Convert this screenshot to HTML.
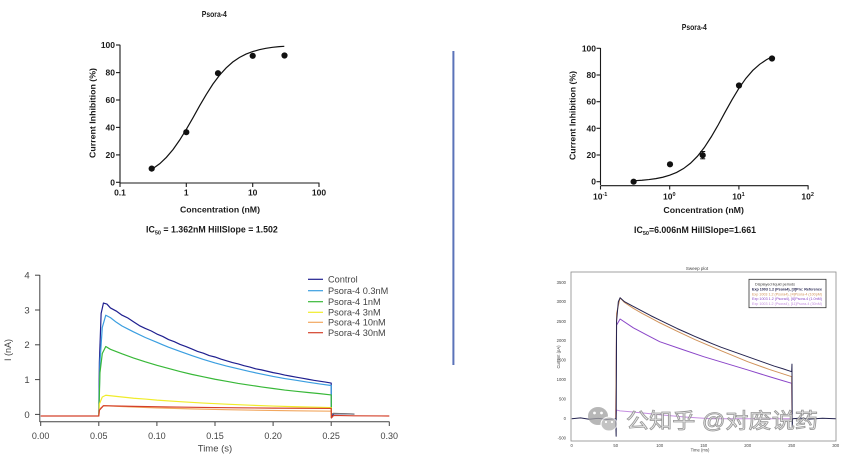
<!DOCTYPE html>
<html><head><meta charset="utf-8"><style>
html,body{margin:0;padding:0;background:#fff;}
svg{display:block;}
.b{font-family:"Liberation Sans",Arial,sans-serif;font-weight:bold;fill:#1a1a1a;}
.n{font-family:"Liberation Sans",Arial,sans-serif;fill:#444;}
.ns{vector-effect:non-scaling-stroke;fill:none;stroke-linejoin:round;}
</style></head><body>
<svg width="841" height="454" viewBox="0 0 841 454" xmlns="http://www.w3.org/2000/svg">
<rect width="841" height="454" fill="#fff"/>

<!-- ===== Top-left dose response ===== -->
<text class="b" x="214.3" y="17" font-size="8.5" text-anchor="middle" textLength="25" lengthAdjust="spacingAndGlyphs">Psora-4</text>
<g stroke="#1a1a1a" stroke-width="1.1" fill="none">
<line x1="120" y1="44.8" x2="120" y2="183"/>
<line x1="120" y1="183" x2="319.5" y2="183"/>
<line x1="116" y1="45" x2="120" y2="45"/>
<line x1="116" y1="72.6" x2="120" y2="72.6"/>
<line x1="116" y1="100" x2="120" y2="100"/>
<line x1="116" y1="127.4" x2="120" y2="127.4"/>
<line x1="116" y1="154.9" x2="120" y2="154.9"/>
<line x1="116" y1="182.3" x2="120" y2="182.3"/>
<line x1="120" y1="183" x2="120" y2="187"/>
<line x1="186.3" y1="183" x2="186.3" y2="187"/>
<line x1="252.7" y1="183" x2="252.7" y2="187"/>
<line x1="319" y1="183" x2="319" y2="187"/>
</g>
<g class="b" font-size="8.5" text-anchor="end">
<text x="115" y="48">100</text><text x="115" y="75.6">80</text><text x="115" y="103">60</text>
<text x="115" y="130.4">40</text><text x="115" y="157.9">20</text><text x="115" y="185.3">0</text>
</g>
<g class="b" font-size="8.5" text-anchor="middle">
<text x="120" y="195.5">0.1</text><text x="186.3" y="195.5">1</text><text x="252.7" y="195.5">10</text><text x="319" y="195.5">100</text>
</g>
<text class="b" font-size="8.5" text-anchor="middle" transform="translate(95.3,113) rotate(-90)" textLength="90" lengthAdjust="spacingAndGlyphs">Current Inhibition (%)</text>
<text class="b" x="220" y="212.5" font-size="8.5" text-anchor="middle" textLength="80" lengthAdjust="spacingAndGlyphs">Concentration (nM)</text>
<text class="b" x="146" y="232.5" font-size="8.8">IC<tspan font-size="5.5" dy="2">50</tspan><tspan dy="-2"> = 1.362nM HillSlope = 1.502</tspan></text>
<polyline fill="none" stroke="#111" stroke-width="1.2" points="151.64,169.46 159.8,163.63 166.43,157.31 173.07,149.49 179.7,140.01 186.33,129.3 192.96,117.77 199.6,105.82 206.23,94.57 212.86,84.13 219.5,75.21 226.13,67.93 232.76,62.03 239.39,57.49 246.03,54.06 252.66,51.59 259.29,49.67 265.93,48.3 272.56,47.34 279.19,46.65 284.3,46.3"/>
<g fill="#111">
<circle cx="151.7" cy="168.6" r="3.1"/><circle cx="186.3" cy="132.2" r="3.1"/><circle cx="218" cy="73.2" r="3.1"/>
<circle cx="252.7" cy="55.8" r="3.1"/><circle cx="284.5" cy="55.5" r="3.1"/>
</g>

<!-- separator -->
<rect x="452.4" y="51" width="2" height="314" fill="#5b73b9"/>

<!-- ===== Top-right dose response ===== -->
<text class="b" x="694.3" y="30" font-size="8.5" text-anchor="middle" textLength="25" lengthAdjust="spacingAndGlyphs">Psora-4</text>
<g stroke="#1a1a1a" stroke-width="1.1" fill="none">
<line x1="600.5" y1="48" x2="600.5" y2="185"/>
<line x1="600.5" y1="185.7" x2="808.5" y2="185.7"/>
<line x1="596.5" y1="48.3" x2="600.5" y2="48.3"/>
<line x1="596.5" y1="75" x2="600.5" y2="75"/>
<line x1="596.5" y1="101.7" x2="600.5" y2="101.7"/>
<line x1="596.5" y1="128.3" x2="600.5" y2="128.3"/>
<line x1="596.5" y1="155" x2="600.5" y2="155"/>
<line x1="596.5" y1="181.7" x2="600.5" y2="181.7"/>
<line x1="600.5" y1="185.7" x2="600.5" y2="189.5"/>
<line x1="669.7" y1="185.7" x2="669.7" y2="189.5"/>
<line x1="738.9" y1="185.7" x2="738.9" y2="189.5"/>
<line x1="808.1" y1="185.7" x2="808.1" y2="189.5"/>
</g>
<g class="b" font-size="8.5" text-anchor="end">
<text x="596" y="51.3">100</text><text x="596" y="78">80</text><text x="596" y="104.7">60</text>
<text x="596" y="131.3">40</text><text x="596" y="158">20</text><text x="596" y="184.7">0</text>
</g>
<g class="b" font-size="8.5">
<text x="593" y="199.5">10<tspan font-size="5.5" dy="-3.5">-1</tspan></text>
<text x="663" y="199.5">10<tspan font-size="5.5" dy="-3.5">0</tspan></text>
<text x="732.2" y="199.5">10<tspan font-size="5.5" dy="-3.5">1</tspan></text>
<text x="801.4" y="199.5">10<tspan font-size="5.5" dy="-3.5">2</tspan></text>
</g>
<text class="b" font-size="8.5" text-anchor="middle" transform="translate(575.3,115.5) rotate(-90)" textLength="89" lengthAdjust="spacingAndGlyphs">Current Inhibition (%)</text>
<text class="b" x="703.7" y="213" font-size="8.5" text-anchor="middle" textLength="80.5" lengthAdjust="spacingAndGlyphs">Concentration (nM)</text>
<text class="b" x="634" y="233" font-size="8.8">IC<tspan font-size="5.5" dy="2">50</tspan><tspan dy="-2">=6.006nM HillSlope=1.661</tspan></text>
<polyline fill="none" stroke="#111" stroke-width="1.2" points="633.51,180.79 642.02,180.25 648.94,179.58 655.86,178.62 662.78,177.23 669.7,175.24 676.62,172.44 683.54,168.55 690.46,163.29 697.38,156.35 704.3,147.55 711.22,136.88 718.14,125 725.06,112.2 731.98,99.79 738.9,88.32 745.82,78.45 752.74,70.44 759.66,64.31 766.58,59.64 771.91,56.97"/>
<g fill="#111">
<circle cx="633.6" cy="181.7" r="3.1"/><circle cx="670" cy="164.3" r="3.1"/><circle cx="702.7" cy="155.2" r="3.1"/>
<circle cx="739" cy="85.5" r="3.1"/><circle cx="772" cy="58.5" r="3.1"/>
</g>
<line x1="702.7" y1="151.5" x2="702.7" y2="158.8" stroke="#111" stroke-width="1.2"/>
<line x1="700.2" y1="151.5" x2="705.2" y2="151.5" stroke="#111" stroke-width="1"/>
<line x1="700.2" y1="158.8" x2="705.2" y2="158.8" stroke="#111" stroke-width="1"/>

<!-- ===== Bottom-left traces ===== -->
<g stroke="#444" stroke-width="1" fill="none">
<line x1="39.8" y1="275" x2="39.8" y2="422"/>
<line x1="39.8" y1="421.8" x2="389.5" y2="421.8"/>
<line x1="35" y1="275.2" x2="39.8" y2="275.2"/>
<line x1="35" y1="310" x2="39.8" y2="310"/>
<line x1="35" y1="344.8" x2="39.8" y2="344.8"/>
<line x1="35" y1="379.6" x2="39.8" y2="379.6"/>
<line x1="35" y1="414.4" x2="39.8" y2="414.4"/>
<line x1="40.7" y1="421.8" x2="40.7" y2="426"/>
<line x1="98.8" y1="421.8" x2="98.8" y2="426"/>
<line x1="156.9" y1="421.8" x2="156.9" y2="426"/>
<line x1="215" y1="421.8" x2="215" y2="426"/>
<line x1="273.1" y1="421.8" x2="273.1" y2="426"/>
<line x1="331.2" y1="421.8" x2="331.2" y2="426"/>
<line x1="389.3" y1="421.8" x2="389.3" y2="426"/>
</g>
<g class="n" font-size="9.5" text-anchor="middle">
<text x="27" y="278.6">4</text><text x="27" y="313.4">3</text><text x="27" y="348.2">2</text><text x="27" y="383">1</text><text x="27" y="417.8">0</text>
</g>
<g class="n" font-size="9" text-anchor="middle">
<text x="40.7" y="439">0.00</text><text x="98.8" y="439">0.05</text><text x="156.9" y="439">0.10</text><text x="215" y="439">0.15</text>
<text x="273.1" y="439">0.20</text><text x="331.2" y="439">0.25</text><text x="389.3" y="439">0.30</text>
<text x="215" y="451.5" font-size="9.5">Time (s)</text>
</g>
<text class="n" font-size="9" text-anchor="middle" transform="translate(11,350) rotate(-90)">I (nA)</text>

<g transform="matrix(1162,0,0,-34.8,40.7,414.4)" stroke-width="1.2">
<polyline class="ns" stroke="#1f1f8f" points="0.05,-0.05 0.0505,1.5 0.052,2.9 0.054,3.2 0.057,3.17 0.06,3.06 0.065,2.97 0.07,2.85 0.075,2.77 0.08,2.66 0.085,2.55 0.09,2.47 0.095,2.40 0.10,2.31 0.105,2.24 0.11,2.15 0.115,2.09 0.12,2.01 0.125,1.95 0.13,1.88 0.135,1.81 0.14,1.76 0.145,1.69 0.15,1.65 0.155,1.59 0.16,1.54 0.165,1.49 0.17,1.45 0.175,1.40 0.18,1.36 0.185,1.31 0.19,1.28 0.195,1.24 0.20,1.20 0.205,1.17 0.21,1.13 0.215,1.10 0.22,1.07 0.225,1.04 0.23,1.01 0.235,0.98 0.24,0.955 0.245,0.93 0.25,0.90 0.2502,-0.1 0.252,0.02 0.27,0.01"/>
<polyline class="ns" stroke="#3a9ee0" points="0.05,-0.05 0.051,1.5 0.053,2.5 0.056,2.85 0.06,2.78 0.065,2.65 0.07,2.54 0.08,2.37 0.09,2.21 0.10,2.07 0.105,2.0 0.11,1.93 0.12,1.81 0.13,1.69 0.14,1.58 0.15,1.48 0.16,1.39 0.17,1.31 0.18,1.23 0.19,1.16 0.20,1.09 0.21,1.03 0.22,0.98 0.23,0.925 0.24,0.876 0.25,0.83 0.2502,-0.1"/>
<polyline class="ns" stroke="#38b838" points="0.05,-0.05 0.051,1.2 0.053,1.75 0.056,1.95 0.06,1.87 0.07,1.74 0.08,1.62 0.09,1.51 0.10,1.41 0.11,1.32 0.12,1.23 0.13,1.15 0.14,1.08 0.15,1.01 0.16,0.95 0.17,0.89 0.18,0.84 0.19,0.79 0.20,0.744 0.21,0.70 0.22,0.664 0.23,0.63 0.24,0.596 0.25,0.56 0.2502,-0.1"/>
<polyline class="ns" stroke="#f0ec2a" points="0.05,-0.05 0.0505,0.3 0.053,0.5 0.056,0.55 0.07,0.50 0.08,0.465 0.09,0.44 0.10,0.41 0.12,0.366 0.14,0.326 0.16,0.293 0.18,0.264 0.20,0.24 0.22,0.22 0.25,0.194 0.2502,-0.1"/>
<polyline class="ns" stroke="#f2a860" points="0.05,-0.05 0.0505,0.15 0.054,0.25 0.07,0.226 0.10,0.188 0.13,0.159 0.16,0.136 0.19,0.117 0.22,0.103 0.25,0.092 0.2502,-0.1"/>
<polyline class="ns" stroke="#777" points="0.25,0.0 0.252,0.03 0.27,0.01"/>
<polyline class="ns" stroke="#d4402a" points="0,-0.045 0.05,-0.045 0.0505,0.12 0.054,0.25 0.08,0.231 0.11,0.214 0.14,0.20 0.17,0.19 0.20,0.181 0.25,0.171 0.2502,-0.1 0.252,-0.03 0.27,-0.04 0.30,-0.045"/>
</g>
<g font-size="9.2" class="n" fill="#333">
<line x1="308" y1="279.3" x2="323" y2="279.3" stroke="#1f1f8f" stroke-width="1.2"/><text x="328" y="282.6">Control</text>
<line x1="308" y1="290.7" x2="323" y2="290.7" stroke="#3a9ee0" stroke-width="1.2"/><text x="328" y="294">Psora-4 0.3nM</text>
<line x1="308" y1="301.7" x2="323" y2="301.7" stroke="#38b838" stroke-width="1.2"/><text x="328" y="305">Psora-4 1nM</text>
<line x1="308" y1="312.3" x2="323" y2="312.3" stroke="#f0ec2a" stroke-width="1.2"/><text x="328" y="315.6">Psora-4 3nM</text>
<line x1="308" y1="322.3" x2="323" y2="322.3" stroke="#f2a860" stroke-width="1.2"/><text x="328" y="325.6">Psora-4 10nM</text>
<line x1="308" y1="332.7" x2="323" y2="332.7" stroke="#d4402a" stroke-width="1.2"/><text x="328" y="336">Psora-4 30nM</text>
</g>

<!-- ===== Bottom-right sweep plot ===== -->
<text class="n" x="697" y="270" font-size="4.5" text-anchor="middle">Sweep plot</text>
<rect x="571" y="272" width="265" height="169" fill="#fff" stroke="#8a8a8a" stroke-width="0.8"/>
<g class="n" font-size="4.2" text-anchor="end" fill="#555">
<text x="566" y="284">3500</text><text x="566" y="303">3000</text><text x="566" y="323">2500</text><text x="566" y="342">2000</text>
<text x="566" y="361.5">1500</text><text x="566" y="381">1000</text><text x="566" y="400.5">500</text><text x="566" y="420">0</text><text x="566" y="439.5">-500</text>
</g>
<g class="n" font-size="4.2" text-anchor="middle" fill="#555">
<text x="571.7" y="447">0</text><text x="615.7" y="447">50</text><text x="659.7" y="447">100</text><text x="703.7" y="447">150</text>
<text x="747.7" y="447">200</text><text x="791.7" y="447">250</text><text x="835.7" y="447">300</text>
<text x="700" y="451.5">Time (ms)</text>
</g>
<text class="n" font-size="4.2" text-anchor="middle" fill="#555" transform="translate(560,357) rotate(-90)">Current (pA)</text>

<g transform="matrix(0.88,0,0,-0.039,571.7,418.7)" stroke-width="1">
<polyline class="ns" stroke="#c58ee0" points="50,0 51,220 55,200 80,150 100,100 130,40 150,10 160,0 250,0"/>
<polyline class="ns" stroke="#8a45c8" points="50,0 51,2400 55,2556 70,2330 85,2150 100,1975 125,1780 150,1590 175,1420 200,1250 225,1075 250,907 250.4,0"/>
<polyline class="ns" stroke="#d0925a" points="50,0 51,2700 55,3100 60,2980 70,2830 80,2700 90,2580 100,2460 120,2240 140,2030 150,1933 170,1740 200,1462 225,1260 250,1077 250.4,0"/>
<polyline class="ns" stroke="#24234f" points="0,0 10,20 20,-15 30,10 40,-20 50,0 50.5,-450 51,2500 53,3000 55,3100 60,3000 70,2880 80,2760 90,2640 100,2530 110,2420 120,2310 130,2210 140,2110 150,2015 160,1920 170,1830 180,1750 190,1670 200,1590 210,1510 220,1430 230,1350 240,1280 250,1205 250.3,1400 250.6,-200 251,0 260,15 270,-10 285,10 300,0"/>
</g>

<rect x="749" y="279.3" width="77" height="28.4" fill="#fff" stroke="#333" stroke-width="0.8"/>
<g font-family="Liberation Sans, Arial, sans-serif" font-size="3.8">
<text x="755" y="285.5" fill="#333" textLength="40" lengthAdjust="spacingAndGlyphs">Displayed liquid periods</text>
<text x="752" y="290.5" fill="#24234f" font-weight="bold" textLength="70" lengthAdjust="spacingAndGlyphs">Exp 1003 1.2 (Psora4), [3]Pre: Reference</text>
<text x="752" y="295.3" fill="#d0925a" textLength="70" lengthAdjust="spacingAndGlyphs">Exp 1003 1.2 (Psora4), [4]Psora-4 (100pM)</text>
<text x="752" y="300.2" fill="#8a45c8" textLength="70" lengthAdjust="spacingAndGlyphs">Exp 1003 1.2 (Psora4), [6]Psora-4 (1.0nM)</text>
<text x="752" y="305.2" fill="#c58ee0" textLength="70" lengthAdjust="spacingAndGlyphs">Exp 1003 1.2 (Psora4), [11]Psora-4 (30nM)</text>
</g>

<!-- watermark -->
<g opacity="0.75">
<ellipse cx="598" cy="416" rx="10" ry="9" fill="#a0a0a0"/>
<ellipse cx="609" cy="424" rx="8" ry="7" fill="#b0b0b0" stroke="#fff" stroke-width="1"/>
<circle cx="594.5" cy="413" r="1.4" fill="#fff"/><circle cx="601.5" cy="413" r="1.4" fill="#fff"/>
<circle cx="606" cy="422" r="1.1" fill="#fff"/><circle cx="612" cy="422" r="1.1" fill="#fff"/>
</g>
<text x="626" y="428" font-family="Liberation Sans, 'Noto Sans CJK SC', sans-serif" font-size="21" fill="#eaeaea" stroke="#8c8c8c" stroke-width="0.8" opacity="0.9" textLength="192" lengthAdjust="spacingAndGlyphs">公知乎 @对废说药</text>
</svg>
</body></html>
